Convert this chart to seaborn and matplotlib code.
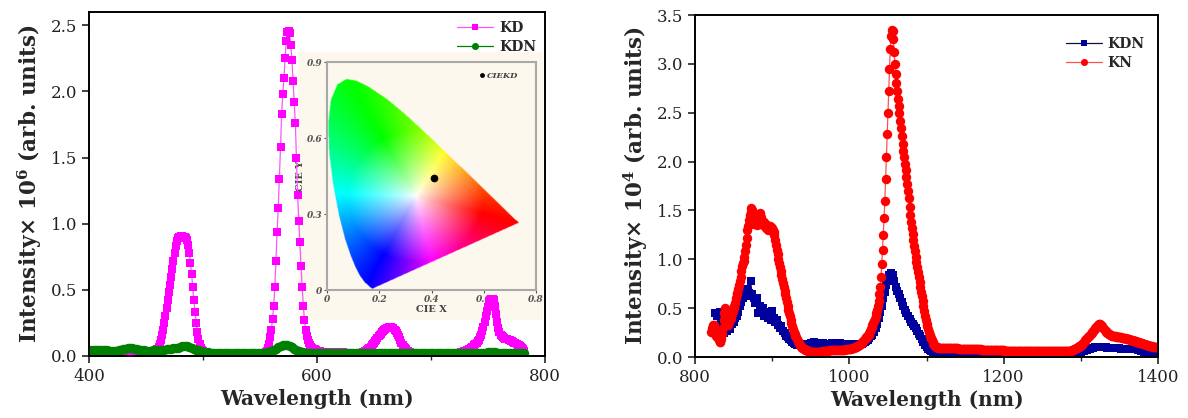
import numpy as np
import matplotlib
matplotlib.use('Agg')
import matplotlib.pyplot as plt
from matplotlib.path import Path
from matplotlib.colors import hsv_to_rgb
from matplotlib.ticker import MultipleLocator
import seaborn as sns

# ---------------- data ----------------
# visible emission, sample KD, 1 nm steps 400..782
kd_wl = np.arange(400, 783)
kd = [
    0.01, 0.01, 0.01, 0.01, 0.01, 0.01, 0.01, 0.01, 0.01, 0.01,   # 400
    0.01, 0.01, 0.01, 0.01, 0.01, 0.01, 0.01, 0.01, 0.01, 0.01,   # 410
    0.01, 0.01, 0.01, 0.01, 0.01, 0.01, 0.01, 0.01, 0.01, 0.01,   # 420
    0.01, 0.01, 0.01, 0.015, 0.015, 0.015, 0.015, 0.015, 0.01, 0.01,  # 430
    0.01, 0.01, 0.01, 0.01, 0.01, 0.01, 0.01, 0.01, 0.01, 0.01,   # 440
    0.01, 0.01, 0.01, 0.01, 0.01, 0.012, 0.015, 0.02, 0.025, 0.035,  # 450
    0.05, 0.07, 0.09, 0.12, 0.16, 0.2, 0.25, 0.3, 0.36, 0.42,     # 460
    0.48, 0.54, 0.6, 0.66, 0.72, 0.78, 0.83, 0.87, 0.89, 0.9,     # 470
    0.9, 0.91, 0.91, 0.9, 0.9, 0.89, 0.88, 0.84, 0.78, 0.7,       # 480
    0.62, 0.52, 0.42, 0.33, 0.25, 0.18, 0.13, 0.09, 0.06, 0.045,  # 490
    0.035, 0.03, 0.025, 0.022, 0.02, 0.02, 0.02, 0.02, 0.02, 0.02,  # 500
    0.02, 0.02, 0.02, 0.02, 0.02, 0.02, 0.02, 0.02, 0.02, 0.02,   # 510
    0.02, 0.02, 0.02, 0.02, 0.02, 0.02, 0.02, 0.02, 0.02, 0.02,   # 520
    0.02, 0.02, 0.02, 0.02, 0.02, 0.02, 0.02, 0.02, 0.02, 0.02,   # 530
    0.02, 0.02, 0.02, 0.02, 0.02, 0.02, 0.02, 0.02, 0.02, 0.02,   # 540
    0.02, 0.02, 0.02, 0.02, 0.02, 0.03, 0.04, 0.06, 0.09, 0.14,   # 550
    0.2, 0.28, 0.38, 0.52, 0.72, 0.94, 1.12, 1.34, 1.58, 1.83,    # 560
    1.98, 2.1, 2.25, 2.38, 2.45, 2.46, 2.44, 2.35, 2.24, 2.08,    # 570
    1.92, 1.76, 1.5, 1.22, 1.02, 0.86, 0.68, 0.52, 0.38, 0.27,    # 580
    0.2, 0.15, 0.12, 0.1, 0.085, 0.07, 0.06, 0.055, 0.05, 0.045,  # 590
    0.04, 0.038, 0.036, 0.035, 0.034, 0.033, 0.032, 0.031, 0.03, 0.03,  # 600
    0.03, 0.03, 0.03, 0.03, 0.03, 0.03, 0.03, 0.03, 0.03, 0.03,   # 610
    0.03, 0.03, 0.028, 0.028, 0.026, 0.026, 0.025, 0.025, 0.025, 0.025,  # 620
    0.025, 0.025, 0.025, 0.025, 0.025, 0.025, 0.025, 0.025, 0.025, 0.025,  # 630
    0.03, 0.03, 0.035, 0.04, 0.045, 0.05, 0.06, 0.07, 0.08, 0.09,  # 640
    0.1, 0.11, 0.12, 0.135, 0.15, 0.16, 0.17, 0.18, 0.19, 0.2,    # 650
    0.205, 0.21, 0.215, 0.22, 0.22, 0.22, 0.215, 0.21, 0.2, 0.19,  # 660
    0.175, 0.16, 0.14, 0.12, 0.1, 0.085, 0.07, 0.06, 0.05, 0.04,  # 670
    0.035, 0.03, 0.028, 0.026, 0.025, 0.024, 0.023, 0.022, 0.022, 0.022,  # 680
    0.02, 0.02, 0.02, 0.02, 0.02, 0.02, 0.02, 0.02, 0.02, 0.02,   # 690
    0.02, 0.02, 0.02, 0.02, 0.02, 0.02, 0.02, 0.02, 0.02, 0.02,   # 700
    0.02, 0.02, 0.02, 0.02, 0.02, 0.02, 0.02, 0.02, 0.02, 0.02,   # 710
    0.02, 0.02, 0.02, 0.022, 0.024, 0.026, 0.028, 0.03, 0.032, 0.035,  # 720
    0.038, 0.04, 0.045, 0.05, 0.055, 0.06, 0.065, 0.07, 0.08, 0.09,  # 730
    0.1, 0.11, 0.12, 0.14, 0.16, 0.19, 0.22, 0.26, 0.3, 0.34,     # 740
    0.37, 0.4, 0.42, 0.43, 0.43, 0.42, 0.38, 0.32, 0.26, 0.21,    # 750
    0.18, 0.16, 0.15, 0.14, 0.135, 0.13, 0.13, 0.125, 0.12, 0.12,  # 760
    0.115, 0.11, 0.105, 0.1, 0.095, 0.09, 0.085, 0.08, 0.075, 0.07,  # 770
    0.06, 0.05, 0.04,                                             # 780
]

# visible emission, sample KDN, 2 nm steps 400..782
kdn_vis_wl = np.arange(400, 783, 2)
kdn_vis = [
    0.04, 0.042, 0.045, 0.047, 0.048, 0.048, 0.046, 0.044, 0.042, 0.04,   # 400
    0.038, 0.038, 0.04, 0.043, 0.047, 0.052, 0.056, 0.06, 0.06, 0.058,    # 420
    0.055, 0.05, 0.047, 0.044, 0.042, 0.04, 0.04, 0.04, 0.042, 0.044,     # 440
    0.045, 0.046, 0.047, 0.048, 0.05, 0.052, 0.054, 0.057, 0.06, 0.064,   # 460
    0.068, 0.072, 0.075, 0.073, 0.068, 0.062, 0.055, 0.048, 0.042, 0.036,  # 480
    0.032, 0.03, 0.028, 0.026, 0.025, 0.025, 0.024, 0.024, 0.023, 0.023,  # 500
    0.022, 0.022, 0.022, 0.022, 0.022, 0.022, 0.022, 0.022, 0.022, 0.022,  # 520
    0.022, 0.022, 0.022, 0.022, 0.022, 0.022, 0.023, 0.025, 0.028, 0.032,  # 540
    0.038, 0.045, 0.055, 0.065, 0.075, 0.082, 0.085, 0.082, 0.075, 0.065,  # 560
    0.055, 0.045, 0.038, 0.032, 0.028, 0.025, 0.023, 0.022, 0.021, 0.02,  # 580
    0.02, 0.02, 0.02, 0.02, 0.02, 0.02, 0.02, 0.02, 0.02, 0.02,   # 600
    0.02, 0.02, 0.02, 0.02, 0.02, 0.02, 0.02, 0.02, 0.02, 0.02,   # 620
    0.02, 0.02, 0.02, 0.02, 0.02, 0.02, 0.02, 0.02, 0.02, 0.02,   # 640
    0.02, 0.02, 0.021, 0.022, 0.022, 0.022, 0.021, 0.02, 0.02, 0.02,  # 660
    0.02, 0.02, 0.02, 0.02, 0.02, 0.02, 0.02, 0.02, 0.02, 0.02,   # 680
    0.02, 0.02, 0.02, 0.02, 0.02, 0.02, 0.02, 0.02, 0.02, 0.02,   # 700
    0.02, 0.02, 0.02, 0.02, 0.02, 0.02, 0.02, 0.02, 0.02, 0.02,   # 720
    0.02, 0.021, 0.022, 0.024, 0.026, 0.028, 0.03, 0.03, 0.028, 0.026,  # 740
    0.024, 0.022, 0.021, 0.02, 0.02, 0.02, 0.02, 0.02, 0.02, 0.02,  # 760
    0.02, 0.02,                                                   # 780
]

# NIR emission, sample KDN, 2 nm steps 826..1400
kdn_nir_wl = np.arange(826, 1401, 2)
kdn_nir = [
    0.45, 0.42, 0.32, 0.46, 0.28, 0.36, 0.25, 0.3, 0.27, 0.32,     # 826
    0.29, 0.34, 0.36, 0.4, 0.42, 0.46, 0.52, 0.56, 0.6, 0.66,      # 846
    0.62, 0.7, 0.66, 0.78, 0.64, 0.6, 0.55, 0.6, 0.45, 0.52,       # 866
    0.46, 0.5, 0.42, 0.46, 0.4, 0.44, 0.38, 0.47, 0.4, 0.36,       # 886
    0.38, 0.33, 0.3, 0.32, 0.27, 0.25, 0.22, 0.2, 0.18, 0.17,      # 906
    0.15, 0.14, 0.13, 0.12, 0.13, 0.12, 0.12, 0.12, 0.13, 0.12,    # 926
    0.13, 0.12, 0.14, 0.13, 0.15, 0.13, 0.14, 0.13, 0.12, 0.13,    # 946
    0.14, 0.12, 0.13, 0.12, 0.13, 0.12, 0.14, 0.13, 0.14, 0.12,    # 966
    0.13, 0.14, 0.13, 0.12, 0.13, 0.12, 0.12, 0.13, 0.12, 0.13,    # 986
    0.12, 0.12, 0.13, 0.12, 0.13, 0.13, 0.14, 0.15, 0.16, 0.17,    # 1006
    0.19, 0.21, 0.23, 0.26, 0.3, 0.34, 0.4, 0.46, 0.52, 0.6,       # 1026
    0.67, 0.74, 0.8, 0.84, 0.86, 0.84, 0.78, 0.72, 0.68, 0.64,     # 1046
    0.6, 0.56, 0.52, 0.48, 0.45, 0.42, 0.39, 0.36, 0.34, 0.32,     # 1066
    0.3, 0.27, 0.24, 0.21, 0.18, 0.15, 0.12, 0.1, 0.08, 0.07,      # 1086
    0.06, 0.05, 0.05, 0.045, 0.045, 0.045, 0.04, 0.04, 0.04, 0.04,  # 1106
    0.04, 0.04, 0.04, 0.04, 0.04, 0.04, 0.04, 0.04, 0.04, 0.04,    # 1126
    0.04, 0.04, 0.04, 0.04, 0.04, 0.04, 0.04, 0.04, 0.04, 0.04,    # 1146
    0.04, 0.04, 0.04, 0.04, 0.04, 0.04, 0.04, 0.04, 0.04, 0.04,    # 1166
    0.04, 0.04, 0.04, 0.04, 0.04, 0.04, 0.04, 0.04, 0.04, 0.04,    # 1186
    0.035, 0.035, 0.035, 0.035, 0.035, 0.035, 0.035, 0.035, 0.035, 0.035,  # 1206
    0.035, 0.035, 0.035, 0.035, 0.035, 0.035, 0.035, 0.035, 0.035, 0.035,  # 1226
    0.035, 0.035, 0.035, 0.035, 0.035, 0.035, 0.035, 0.035, 0.035, 0.035,  # 1246
    0.035, 0.035, 0.035, 0.035, 0.035, 0.035, 0.035, 0.036, 0.037, 0.038,  # 1266
    0.04, 0.04, 0.042, 0.044, 0.046, 0.048, 0.05, 0.055, 0.06, 0.065,  # 1286
    0.07, 0.075, 0.08, 0.085, 0.09, 0.095, 0.1, 0.1, 0.1, 0.1,     # 1306
    0.1, 0.1, 0.1, 0.1, 0.095, 0.095, 0.09, 0.09, 0.09, 0.09,      # 1326
    0.09, 0.09, 0.09, 0.085, 0.085, 0.085, 0.085, 0.085, 0.08, 0.08,  # 1346
    0.08, 0.08, 0.08, 0.078, 0.075, 0.07, 0.065, 0.06, 0.055, 0.05,  # 1366
    0.048, 0.046, 0.044, 0.042, 0.04, 0.038, 0.036, 0.035,         # 1386
]

# NIR emission, sample KN, 1 nm steps 821..1400
kn_wl = np.arange(821, 1401)
kn = [
    0.26, 0.3, 0.33, 0.25, 0.33, 0.28, 0.22, 0.2, 0.27, 0.2,       # 821
    0.17, 0.15, 0.15, 0.18, 0.24, 0.3, 0.38, 0.45, 0.5, 0.48,      # 831
    0.42, 0.37, 0.33, 0.36, 0.42, 0.38, 0.4, 0.44, 0.47, 0.5,      # 841
    0.52, 0.55, 0.6, 0.64, 0.66, 0.7, 0.74, 0.78, 0.82, 0.88,      # 851
    0.93, 0.96, 0.98, 1.02, 1.08, 1.15, 1.22, 1.3, 1.34, 1.4,      # 861
    1.45, 1.48, 1.52, 1.5, 1.44, 1.38, 1.36, 1.4, 1.37, 1.35,      # 871
    1.38, 1.42, 1.45, 1.47, 1.43, 1.4, 1.37, 1.35, 1.38, 1.36,     # 881
    1.34, 1.32, 1.35, 1.33, 1.3, 1.32, 1.34, 1.33, 1.3, 1.32,      # 891
    1.3, 1.28, 1.25, 1.2, 1.15, 1.1, 1.05, 1.0, 0.96, 0.92,        # 901
    0.88, 0.84, 0.8, 0.76, 0.72, 0.68, 0.64, 0.6, 0.56, 0.52,      # 911
    0.48, 0.45, 0.42, 0.38, 0.35, 0.32, 0.29, 0.26, 0.24, 0.22,    # 921
    0.2, 0.18, 0.16, 0.15, 0.14, 0.12, 0.11, 0.1, 0.09, 0.09,      # 931
    0.08, 0.08, 0.07, 0.07, 0.07, 0.06, 0.06, 0.06, 0.05, 0.05,    # 941
    0.05, 0.05, 0.05, 0.05, 0.05, 0.05, 0.05, 0.05, 0.05, 0.05,    # 951
    0.05, 0.05, 0.05, 0.05, 0.06, 0.06, 0.06, 0.06, 0.06, 0.06,    # 961
    0.06, 0.06, 0.06, 0.07, 0.07, 0.07, 0.07, 0.07, 0.07, 0.07,    # 971
    0.07, 0.07, 0.07, 0.07, 0.07, 0.07, 0.07, 0.07, 0.07, 0.07,    # 981
    0.07, 0.07, 0.07, 0.07, 0.08, 0.08, 0.08, 0.08, 0.08, 0.08,    # 991
    0.08, 0.08, 0.09, 0.09, 0.09, 0.09, 0.1, 0.1, 0.1, 0.11,       # 1001
    0.11, 0.12, 0.12, 0.13, 0.13, 0.14, 0.15, 0.16, 0.17, 0.18,    # 1011
    0.19, 0.2, 0.21, 0.22, 0.23, 0.25, 0.27, 0.29, 0.31, 0.33,     # 1021
    0.35, 0.37, 0.39, 0.42, 0.45, 0.48, 0.52, 0.57, 0.64, 0.72,    # 1031
    0.82, 0.95, 1.1, 1.25, 1.42, 1.6, 1.82, 2.05, 2.28, 2.5,       # 1041
    2.72, 2.95, 3.15, 3.28, 3.35, 3.34, 3.25, 3.12, 3.0, 2.9,      # 1051
    2.8, 2.72, 2.64, 2.57, 2.5, 2.42, 2.34, 2.26, 2.18, 2.11,      # 1061
    2.05, 1.98, 1.91, 1.84, 1.77, 1.7, 1.63, 1.54, 1.45, 1.38,     # 1071
    1.32, 1.26, 1.2, 1.14, 1.08, 1.02, 0.97, 0.92, 0.87, 0.82,     # 1081
    0.77, 0.72, 0.67, 0.62, 0.57, 0.52, 0.47, 0.42, 0.38, 0.34,    # 1091
    0.32, 0.29, 0.26, 0.23, 0.21, 0.19, 0.17, 0.15, 0.13, 0.12,    # 1101
    0.11, 0.1, 0.1, 0.1, 0.09, 0.09, 0.09, 0.09, 0.09, 0.09,       # 1111
    0.09, 0.09, 0.09, 0.09, 0.09, 0.09, 0.09, 0.09, 0.09, 0.09,    # 1121
    0.09, 0.09, 0.09, 0.09, 0.09, 0.09, 0.09, 0.09, 0.09, 0.09,    # 1131
    0.085, 0.085, 0.085, 0.085, 0.085, 0.085, 0.085, 0.085, 0.085, 0.085,  # 1141
    0.08, 0.08, 0.08, 0.08, 0.08, 0.08, 0.08, 0.08, 0.08, 0.08,    # 1151
    0.08, 0.08, 0.08, 0.08, 0.08, 0.08, 0.08, 0.08, 0.08, 0.08,    # 1161
    0.075, 0.075, 0.075, 0.075, 0.075, 0.075, 0.075, 0.075, 0.075, 0.075,  # 1171
    0.07, 0.07, 0.07, 0.07, 0.07, 0.07, 0.07, 0.07, 0.07, 0.07,    # 1181
    0.07, 0.07, 0.07, 0.07, 0.07, 0.07, 0.07, 0.07, 0.07, 0.07,    # 1191
    0.065, 0.065, 0.065, 0.065, 0.065, 0.065, 0.065, 0.065, 0.065, 0.065,  # 1201
    0.065, 0.065, 0.065, 0.065, 0.065, 0.065, 0.065, 0.065, 0.065, 0.065,  # 1211
    0.06, 0.06, 0.06, 0.06, 0.06, 0.06, 0.06, 0.06, 0.06, 0.06,    # 1221
    0.06, 0.06, 0.06, 0.06, 0.06, 0.06, 0.06, 0.06, 0.06, 0.06,    # 1231
    0.06, 0.06, 0.06, 0.06, 0.06, 0.06, 0.06, 0.06, 0.06, 0.06,    # 1241
    0.06, 0.06, 0.06, 0.06, 0.06, 0.06, 0.06, 0.06, 0.06, 0.06,    # 1251
    0.06, 0.06, 0.06, 0.06, 0.06, 0.06, 0.06, 0.06, 0.06, 0.06,    # 1261
    0.06, 0.06, 0.06, 0.06, 0.06, 0.06, 0.06, 0.06, 0.06, 0.06,    # 1271
    0.06, 0.06, 0.06, 0.06, 0.06, 0.06, 0.06, 0.07, 0.07, 0.07,    # 1281
    0.08, 0.08, 0.08, 0.09, 0.09, 0.1, 0.1, 0.11, 0.11, 0.12,      # 1291
    0.12, 0.13, 0.14, 0.15, 0.16, 0.17, 0.18, 0.19, 0.2, 0.21,     # 1301
    0.22, 0.23, 0.24, 0.25, 0.26, 0.27, 0.28, 0.29, 0.3, 0.31,     # 1311
    0.32, 0.33, 0.34, 0.34, 0.34, 0.33, 0.32, 0.31, 0.3, 0.29,     # 1321
    0.28, 0.27, 0.26, 0.25, 0.25, 0.24, 0.24, 0.23, 0.23, 0.22,    # 1331
    0.22, 0.22, 0.21, 0.21, 0.21, 0.2, 0.2, 0.2, 0.2, 0.2,         # 1341
    0.2, 0.2, 0.19, 0.19, 0.19, 0.19, 0.19, 0.19, 0.18, 0.18,      # 1351
    0.18, 0.18, 0.18, 0.17, 0.17, 0.17, 0.17, 0.16, 0.16, 0.16,    # 1361
    0.16, 0.15, 0.15, 0.15, 0.15, 0.14, 0.14, 0.14, 0.14, 0.13,    # 1371
    0.13, 0.13, 0.13, 0.12, 0.12, 0.12, 0.12, 0.11, 0.11, 0.11,    # 1381
    0.11, 0.11, 0.1, 0.1, 0.1, 0.1, 0.1, 0.1, 0.1, 0.1,            # 1391
]

# CIE 1931 spectral locus (x, y) for the inset gamut
locus_x = [0.1741, 0.1727, 0.1689, 0.1644, 0.1566, 0.1440, 0.1241, 0.1096,
           0.0913, 0.0687, 0.0454, 0.0235, 0.0082, 0.0039, 0.0139, 0.0389,
           0.0743, 0.1142, 0.1547, 0.2296, 0.3016, 0.3731, 0.4441, 0.5125,
           0.5752, 0.6270, 0.6658, 0.6915, 0.7190, 0.7300, 0.7347]
locus_y = [0.0050, 0.0048, 0.0069, 0.0109, 0.0177, 0.0297, 0.0578, 0.0868,
           0.1327, 0.2007, 0.2950, 0.4127, 0.5384, 0.6548, 0.7502, 0.8120,
           0.8338, 0.8262, 0.8059, 0.7543, 0.6923, 0.6245, 0.5547, 0.4866,
           0.4242, 0.3725, 0.3340, 0.3083, 0.2809, 0.2700, 0.2653]
# colour fan of the printed diagram: direction from the white spot -> hue
white_xy = (0.34, 0.37)
fan_angle = [-15, 58, 119, 178, 242, 283, 345]
fan_hue = [0, 60, 120, 180, 240, 300, 360]
cie_x = [0.41]
cie_y = [0.443]

# ---------------- style ----------------
sns.set_style('ticks')
plt.rcParams['font.family'] = ['DejaVu Serif']
plt.rcParams['mathtext.fontset'] = 'dejavuserif'

W, H = 1188, 418
fig = plt.figure(figsize=(W / 100, H / 100), dpi=100)


def frac(x0, y0, x1, y1):
    return [x0 / W, (H - y1) / H, (x1 - x0) / W, (y1 - y0) / H]


ax1 = fig.add_axes(frac(89, 12, 545, 356))
ax2 = fig.add_axes(frac(695, 15, 1158, 357))

legend_font = {'family': 'DejaVu Serif', 'weight': 'bold', 'size': 10}

# left panel
sns.lineplot(x=kd_wl, y=kd, ax=ax1, color='#ff55ff', linewidth=0.9,
             marker='s', markersize=6.2, markerfacecolor='#ff00ff',
             markeredgewidth=0, label='KD')
sns.lineplot(x=kdn_vis_wl, y=kdn_vis, ax=ax1, color='#008000', linewidth=0.9,
             marker='o', markersize=6.8, markerfacecolor='#008000',
             markeredgewidth=0, label='KDN')
ax1.set_xlim(400, 800)
ax1.set_ylim(0, 2.6)
ax1.xaxis.set_major_locator(MultipleLocator(200))
ax1.xaxis.set_minor_locator(MultipleLocator(100))
ax1.yaxis.set_major_locator(MultipleLocator(0.5))
ax1.set_ylabel('Intensity× $\\mathbf{10^{6}}$ (arb. units)', fontsize=15.5,
               fontweight='bold', labelpad=5)
ax1.legend(loc='upper right', frameon=False, prop=legend_font,
           handlelength=2.6, borderaxespad=0.25, labelspacing=0.35,
           handletextpad=0.4, markerscale=0.75)

# right panel
sns.lineplot(x=kdn_nir_wl, y=kdn_nir, ax=ax2, color='#101040', linewidth=0.9,
             marker='s', markersize=6.2, markerfacecolor='#00009c',
             markeredgewidth=0, label='KDN')
sns.lineplot(x=kn_wl, y=kn, ax=ax2, color='#ff5050', linewidth=0.9,
             marker='o', markersize=6.8, markerfacecolor='#ff0000',
             markeredgewidth=0, label='KN')
ax2.set_xlim(800, 1400)
ax2.set_ylim(0, 3.5)
ax2.xaxis.set_major_locator(MultipleLocator(200))
ax2.xaxis.set_minor_locator(MultipleLocator(100))
ax2.yaxis.set_major_locator(MultipleLocator(0.5))
ax2.set_ylabel('Intensity× $\\mathbf{10^{4}}$ (arb. units)', fontsize=15.5,
               fontweight='bold', labelpad=5)
ax2.legend(loc='upper right', frameon=False, prop=legend_font,
           handlelength=2.6, bbox_to_anchor=(0.998, 0.972),
           labelspacing=0.35, handletextpad=0.4, markerscale=0.75)

for ax in (ax1, ax2):
    ax.set_xlabel('Wavelength (nm)', fontsize=14.5, fontweight='bold',
                  labelpad=3)
    ax.tick_params(which='major', direction='out', length=5, width=1.2,
                   labelsize=12, colors='#222222')
    ax.tick_params(which='minor', direction='out', length=3, width=1.0)
    for s in ax.spines.values():
        s.set_visible(True)
        s.set_linewidth(1.4)
        s.set_color('black')

# ---------------- CIE inset ----------------
ax1.set_zorder(3)
ax1.patch.set_alpha(0)

bg = fig.add_axes(frac(298, 52, 543, 320), zorder=1)
bg.set_facecolor('#fcf8ee')
bg.set_xticks([])
bg.set_yticks([])
for s in bg.spines.values():
    s.set_visible(False)

axi = fig.add_axes(frac(327, 62, 536, 290), zorder=2)
axi.set_facecolor('#fcf8ee')

gx, gy = np.meshgrid(np.linspace(0, 0.8, 420), np.linspace(0, 0.9, 470))
dx, dy = gx - white_xy[0], gy - white_xy[1]
ang = np.degrees(np.arctan2(dy, dx))
ang = np.where(ang < fan_angle[0], ang + 360, ang)
hue = np.interp(ang, fan_angle, fan_hue) / 360.0 % 1.0
sat = np.clip(np.hypot(dx, dy) / 0.26, 0, 1) ** 0.8
rgb = hsv_to_rgb(np.dstack([hue, sat, np.ones_like(hue)]))
inside = Path(np.column_stack([locus_x, locus_y])).contains_points(
    np.column_stack([gx.ravel(), gy.ravel()])).reshape(gx.shape)
img = np.dstack([rgb, inside.astype(float)])
axi.imshow(img, origin='lower', extent=[0, 0.8, 0, 0.9], aspect='auto',
           interpolation='bilinear')
axi.plot(cie_x, cie_y, 'o', color='black', ms=4.5, label='CIEKD')
axi.set_xlim(0, 0.8)
axi.set_ylim(0, 0.9)
axi.set_xticks([0, 0.2, 0.4, 0.6, 0.8])
axi.set_xticklabels(['0', '0.2', '0.4', '0.6', '0.8'])
axi.set_yticks([0, 0.3, 0.6, 0.9])
axi.set_yticklabels(['0', '0.3', '0.6', '0.9'])
axi.tick_params(labelsize=6.5, length=2, width=0.8, pad=1.5, colors='#555555')
for lab in axi.get_xticklabels() + axi.get_yticklabels():
    lab.set_fontstyle('italic')
    lab.set_fontweight('bold')
axi.set_xlabel('CIE X', fontsize=7, fontweight='bold', color='#444444',
               labelpad=1)
axi.set_ylabel('CIE Y', fontsize=7, fontweight='bold', color='#444444',
               labelpad=1)
for s in axi.spines.values():
    s.set_color('#a8a8a8')
    s.set_linewidth(1.5)
axi.legend(loc='upper right', bbox_to_anchor=(0.95, 0.99), frameon=False,
           prop={'family': 'DejaVu Serif', 'style': 'italic',
                 'weight': 'bold', 'size': 6},
           markerscale=0.55, handlelength=0.6, handletextpad=0.3,
           labelcolor='#444444')

fig.savefig('out.png', dpi=100)
